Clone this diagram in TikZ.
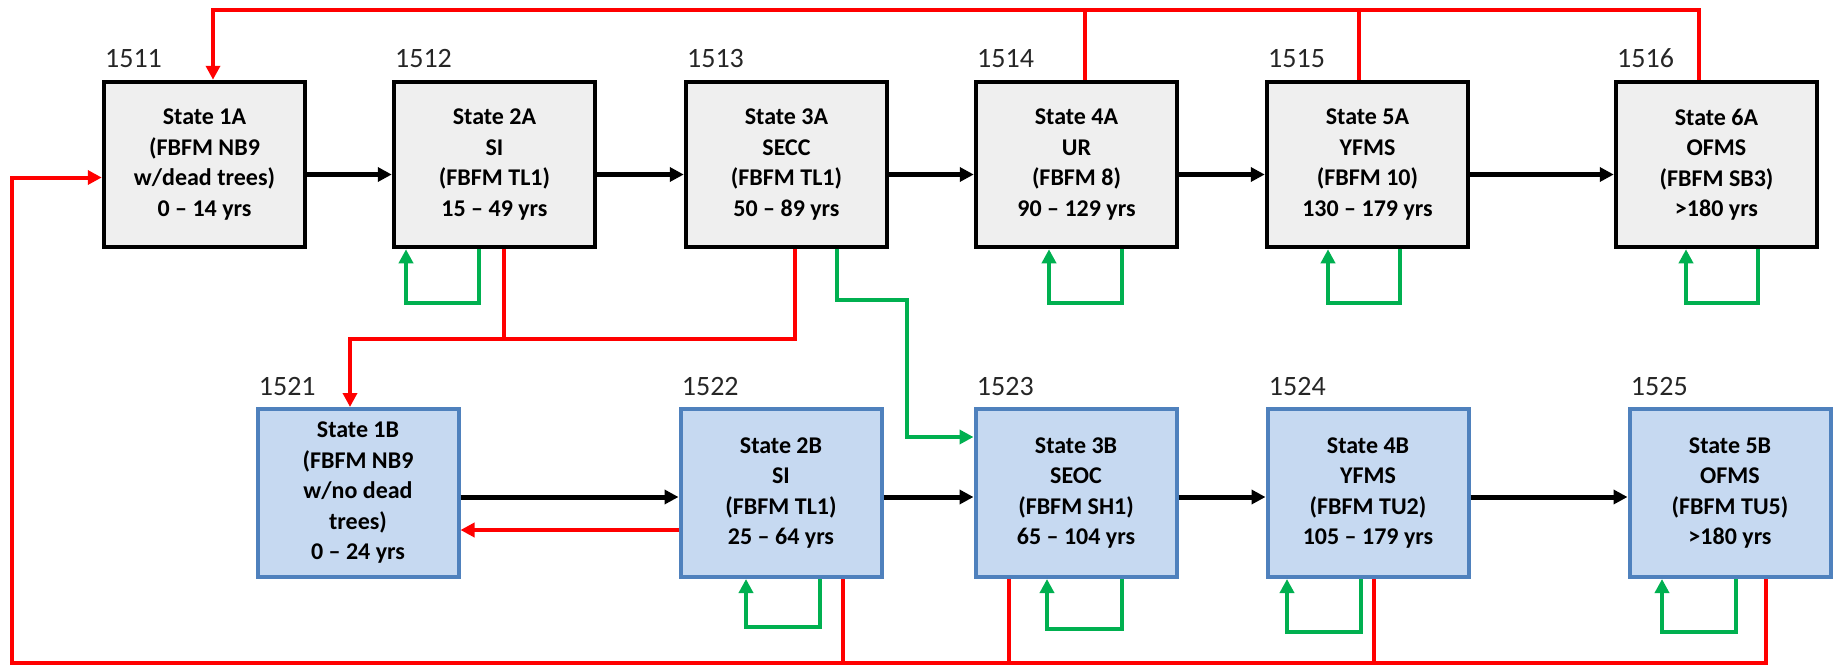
\documentclass[tikz,border=0pt]{standalone}
\usepackage{fontspec}
\setmainfont{Carlito}
\usetikzlibrary{arrows.meta}
\definecolor{gfill}{HTML}{EFEFEF}
\definecolor{bfill}{HTML}{C6D9F1}
\definecolor{bdraw}{HTML}{4F81BD}
\definecolor{rline}{HTML}{FF0000}
\definecolor{gline}{HTML}{00B050}
\definecolor{lbl}{HTML}{262626}
\tikzset{
  tip/.style={-{Triangle[length=7pt,width=7pt]}},
  abox/.style={draw=black, line width=2.25pt, fill=gfill, minimum width=100.5pt,
    minimum height=82.5pt, align=center, inner sep=0pt,
    font=\bfseries\fontsize{12}{15.25}\selectfont},
  bbox/.style={abox, draw=bdraw, line width=2pt, fill=bfill, minimum height=84pt},
  blk/.style={line width=2.5pt, black, tip},
  redl/.style={line width=2pt, rline},
  grn/.style={line width=2pt, gline},
  lab/.style={anchor=base west, inner sep=0pt, text=lbl,
    font=\fontsize{14}{16}\selectfont},
}
\begin{document}
\begin{tikzpicture}[x=0.5pt,y=-0.5pt]
\useasboundingbox (0,0) rectangle (1841,669);
% top row
\node[abox] (a1) at (204.5,164.5) {State 1A\\(FBFM NB9\\w/dead trees)\\0 -- 14 yrs};
\node[abox] (a2) at (494.5,164.5) {State 2A\\SI\\(FBFM TL1)\\15 -- 49 yrs};
\node[abox] (a3) at (786.5,164.5) {State 3A\\SECC\\(FBFM TL1)\\50 -- 89 yrs};
\node[abox] (a4) at (1076.5,164.5) {State 4A\\UR\\(FBFM 8)\\90 -- 129 yrs};
\node[abox] (a5) at (1367.5,164.5) {State 5A\\YFMS\\(FBFM 10)\\130 -- 179 yrs};
\node[abox] (a6) at (1716.5,164.5) {State 6A\\OFMS\\(FBFM SB3)\\>180 yrs};
% bottom row
\node[bbox] (b1) at (358,493) {State 1B\\(FBFM NB9\\w/no dead\\trees)\\0 -- 24 yrs};
\node[bbox] (b2) at (781,493) {State 2B\\SI\\(FBFM TL1)\\25 -- 64 yrs};
\node[bbox] (b3) at (1076,493) {State 3B\\SEOC\\(FBFM SH1)\\65 -- 104 yrs};
\node[bbox] (b4) at (1368,493) {State 4B\\YFMS\\(FBFM TU2)\\105 -- 179 yrs};
\node[bbox] (b5) at (1730,493) {State 5B\\OFMS\\(FBFM TU5)\\>180 yrs};
% labels
\foreach \n/\t in {a1/1511,a2/1512,a3/1513,a4/1514,a5/1515,a6/1516,b1/1521,b2/1522,b3/1523,b4/1524,b5/1525}
  \node[lab] (l\n) at ([xshift=1.5pt,yshift=6pt]\n.north west) {\t};
% black forward arrows
\draw[blk] ([yshift=-5pt]a1.east) -- ([yshift=-5pt]a2.west);
\draw[blk] ([yshift=-5pt]a2.east) -- ([yshift=-5pt]a3.west);
\draw[blk] ([yshift=-5pt]a3.east) -- ([yshift=-5pt]a4.west);
\draw[blk] ([yshift=-5pt]a4.east) -- ([yshift=-5pt]a5.west);
\draw[blk] ([yshift=-5pt]a5.east) -- ([yshift=-5pt]a6.west);
\draw[blk] ([yshift=-2pt]b1.east) -- ([yshift=-2pt]b2.west);
\draw[blk] ([yshift=-2pt]b2.east) -- ([yshift=-2pt]b3.west);
\draw[blk] ([yshift=-2pt]b3.east) -- ([yshift=-2pt]b4.west);
\draw[blk] ([yshift=-2pt]b4.east) -- ([yshift=-2pt]b5.west);
% red back arrow 2B -> 1B
\draw[redl,tip] ([yshift=-18.5pt]b2.west) -- ([yshift=-18.5pt]b1.east);
% top red return
\coordinate (tl) at (213,10);
\draw[redl,tip] ([xshift=-8.75pt]a6.north) |- (tl) -- ([xshift=4.25pt]a1.north);
\draw[redl] ([xshift=4.25pt]a4.north) -- ([xshift=4.25pt]a4.north |- tl);
\draw[redl] ([xshift=-4.25pt]a5.north) -- ([xshift=-4.25pt]a5.north |- tl);
% bottom red return
\coordinate (bl) at (12,663);
\draw[redl,tip] ([xshift=18pt]b5.south) |- (bl) |- ([yshift=-6.5pt]a1.west);
\draw[redl] ([xshift=31pt]b2.south) -- ([xshift=31pt]b2.south |- bl);
\draw[redl] ([xshift=-33.5pt]b3.south) -- ([xshift=-33.5pt]b3.south |- bl);
\draw[redl] ([xshift=3pt]b4.south) -- ([xshift=3pt]b4.south |- bl);
% red 2A/3A -> 1B
\coordinate (mj) at (350,339);
\draw[redl,tip] ([xshift=4.25pt]a3.south) |- (mj) -- ([xshift=-4pt]b1.north);
\draw[redl] ([xshift=4.75pt]a2.south) -- ([xshift=4.75pt]a2.south |- mj);
% green 3A -> 3B
\coordinate (gj) at (907,300);
\draw[grn,tip] ([xshift=25.25pt]a3.south) |- (gj) |- ([yshift=28pt]b3.west);
% green self loops
\draw[grn,tip] ([xshift=-7.75pt]a2.south) -- ++(0,-27pt) -| ([xshift=-44.25pt]a2.south);
\draw[grn,tip] ([xshift=22.75pt]a4.south) -- ++(0,-27pt) -| ([xshift=-13.75pt]a4.south);
\draw[grn,tip] ([xshift=16.25pt]a5.south) -- ++(0,-27pt) -| ([xshift=-19.75pt]a5.south);
\draw[grn,tip] ([xshift=20.75pt]a6.south) -- ++(0,-27pt) -| ([xshift=-15.25pt]a6.south);
\draw[grn,tip] ([xshift=19.5pt]b2.south) -- ++(0,-24pt) -| ([xshift=-17.5pt]b2.south);
\draw[grn,tip] ([xshift=23pt]b3.south) -- ++(0,-25pt) -| ([xshift=-14.5pt]b3.south);
\draw[grn,tip] ([xshift=-3.5pt]b4.south) -- ++(0,-26.5pt) -| ([xshift=-40.5pt]b4.south);
\draw[grn,tip] ([xshift=3pt]b5.south) -- ++(0,-26.5pt) -| ([xshift=-34pt]b5.south);
\end{tikzpicture}
\end{document}
